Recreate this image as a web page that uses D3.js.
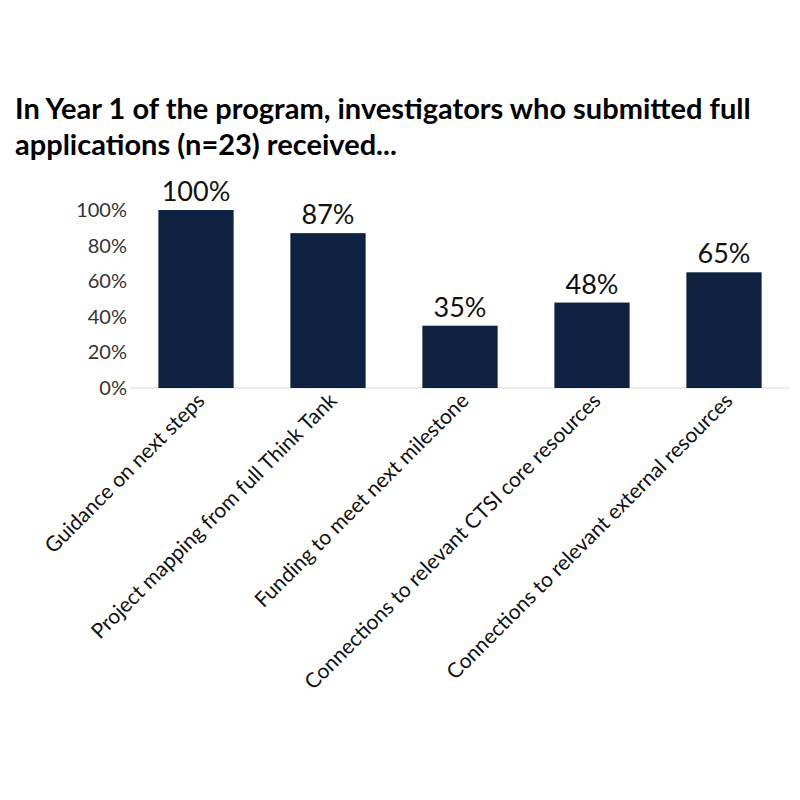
<!DOCTYPE html>
<html><head><meta charset="utf-8">
<script src="https://cdn.jsdelivr.net/npm/d3@7"></script>
<style>body{margin:0;background:#fff}</style></head>
<body><svg id="c" width="800" height="800"></svg>
<script>
const categories=["Guidance on next steps","Project mapping from full Think Tank","Funding to meet next milestone","Connections to relevant CTSI core resources","Connections to relevant external resources"];
const values=[100,87,35,48,65];
const ticks=[0,20,40,60,80,100];
const titleLines=["In Year 1 of the program, investigators who submitted full","applications (n=23) received..."];
const svg=d3.select("#c");
const F="Lato, 'Open Sans', sans-serif";
svg.append("rect").attr("width",800).attr("height",800).attr("fill","#fff");
svg.selectAll("text.t").data(titleLines).join("text").attr("x",15).attr("y",(d,i)=>119+i*36)
 .attr("font-family",F).attr("font-weight","bold").attr("font-size",29).attr("fill","#000").text(d=>d);
const x=d3.scaleBand().domain(categories).range([130,790]).paddingInner(0.43).paddingOuter(0.215);
const y=d3.scaleLinear().domain([0,100]).range([388,210]);
const ya=svg.append("g").attr("transform","translate(130,0)").call(d3.axisLeft(y).tickValues(ticks).tickFormat(d=>d+"%").tickSize(0).tickPadding(3));
ya.select(".domain").remove();
ya.selectAll("text").attr("font-family",F).attr("font-size",20).attr("fill","#333");
svg.append("line").attr("x1",130).attr("x2",790).attr("y1",y(0)).attr("y2",y(0)).attr("stroke","#d9d9d9");
svg.selectAll("rect.b").data(values).join("rect").attr("x",(d,i)=>x(categories[i])).attr("width",x.bandwidth())
 .attr("y",d=>y(d)).attr("height",d=>y(0)-y(d)).attr("fill","#0e2141");
svg.selectAll("text.v").data(values).join("text").attr("x",(d,i)=>x(categories[i])+x.bandwidth()/2).attr("y",d=>y(d)-9)
 .attr("text-anchor","middle").attr("font-family",F).attr("font-size",27).attr("fill","#111").text(d=>d+"%");
svg.selectAll("text.c").data(categories).join("text")
 .attr("transform",d=>`translate(${x(d)+x.bandwidth()/2+10},${y(0)+14}) rotate(-45)`)
 .attr("text-anchor","end").attr("font-family",F).attr("font-size",21).attr("fill","#111").text(d=>d);
</script></body></html>
